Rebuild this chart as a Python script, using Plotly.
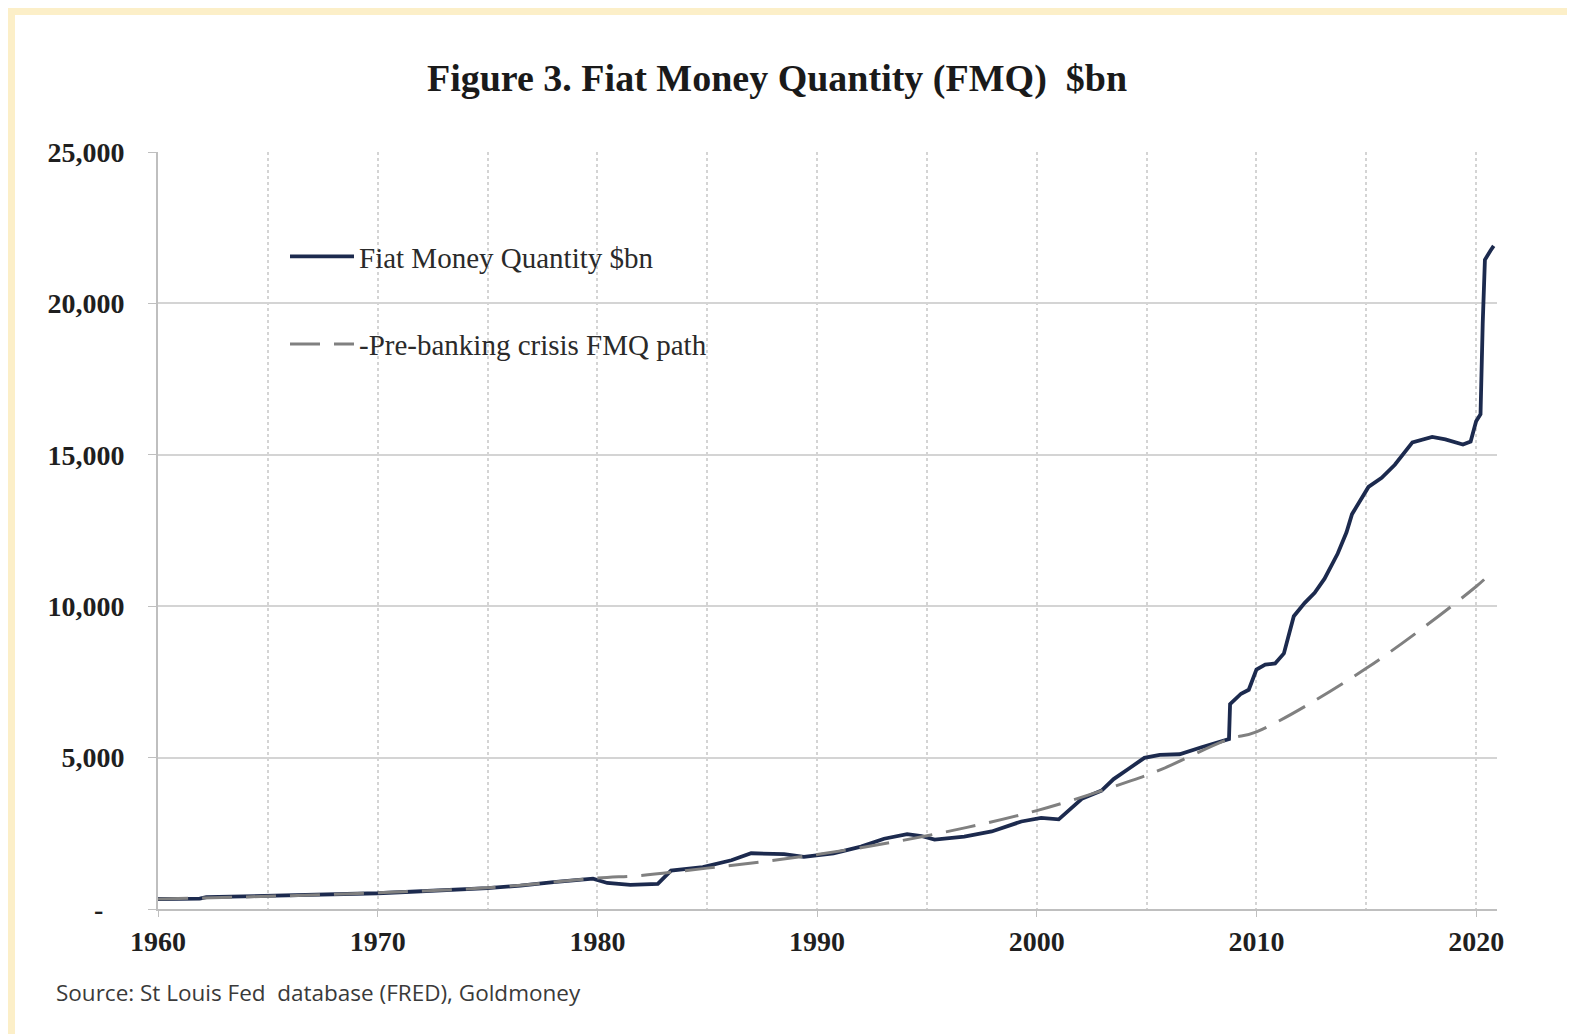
import plotly.graph_objects as go

# Fiat Money Quantity ($bn)
fmq_years = [1960.0, 1961.0, 1961.9, 1962.2, 1963.5, 1965.0, 1966.5, 1968.0, 1970.0, 1971.5,
             1973.0, 1975.0, 1976.5, 1978.0, 1979.8, 1980.45, 1981.5, 1982.75, 1983.35, 1984.8,
             1986.1, 1987.0, 1988.5, 1989.4, 1990.75, 1992.0, 1993.05, 1994.1, 1994.75, 1995.35,
             1996.7, 1997.95, 1999.3, 2000.2, 2001.0, 2002.05, 2002.95, 2003.5, 2004.2, 2004.9,
             2005.6, 2006.5, 2007.5, 2008.3, 2008.75, 2008.8, 2009.0, 2009.3, 2009.65, 2010.0,
             2010.4, 2010.85, 2011.25, 2011.7, 2012.2, 2012.65, 2013.1, 2013.7, 2014.1, 2014.35,
             2015.1, 2015.7, 2016.3, 2017.1, 2018.0, 2018.6, 2019.4, 2019.75, 2020.0, 2020.2,
             2020.3, 2020.4, 2020.65, 2020.8]
fmq_values = [330, 330, 340, 390, 410, 450, 470, 500, 520, 570,
              620, 690, 770, 890, 1000, 860, 800, 830, 1270, 1380,
              1610, 1840, 1810, 1720, 1840, 2060, 2320, 2470, 2410, 2290,
              2390, 2560, 2890, 3010, 2960, 3640, 3910, 4290, 4640, 4990,
              5090, 5110, 5340, 5510, 5610, 6770, 6910, 7110, 7240, 7910,
              8070, 8110, 8440, 9670, 10110, 10440, 10910, 11740, 12440, 13040,
              13940, 14240, 14670, 15410, 15590, 15510, 15340, 15440, 16110, 16340,
              19340, 21440, 21740, 21900]

# Pre-banking crisis FMQ path ($bn)
path_years = [1960, 1965, 1970, 1975, 1980, 1982, 1985, 1990, 1995, 2000,
              2004.3, 2005.7, 2008.75, 2010, 2015, 2020, 2020.75]
path_values = [330, 420, 540, 700, 1020, 1110, 1350, 1800, 2420, 3250,
               4240, 4620, 5610, 5850, 7950, 10650, 11150]

x_ticks = [1960, 1970, 1980, 1990, 2000, 2010, 2020]
y_ticks = [0, 5000, 10000, 15000, 20000, 25000]
y_labels = ["-\u00a0\u00a0\u00a0", "5,000", "10,000", "15,000", "20,000", "25,000"]

OFF = 8  # page body margin
W, H = 1575 - OFF, 1034 - OFF
L, R, T, B = 158 - OFF, 78, 152 - OFF, 133 - OFF
PW, PH = W - L - R, H - T - B


def px_x(p):
    return (p - OFF - L) / PW


def px_y(p):
    return (H - B - (p - OFF)) / PH


serif = "Liberation Serif"

fig = go.Figure()
fig.add_trace(go.Scatter(
    x=fmq_years, y=fmq_values, mode="lines", name="Fiat Money Quantity $bn",
    line=dict(color="#1c2a4e", width=3.8), legendgroup="a"))
fig.add_trace(go.Scatter(
    x=path_years, y=path_values, mode="lines", name="-Pre-banking crisis FMQ path",
    line=dict(color="#808080", width=3, dash="30px,14px", shape="spline"), legendgroup="b"))

# white card inside the beige frame
fig.add_shape(type="rect", xref="paper", yref="paper", layer="below",
              x0=px_x(15), x1=px_x(1580), y0=px_y(1045), y1=px_y(15),
              fillcolor="white", line=dict(width=0))

fig.add_annotation(text="Source: St Louis Fed  database (FRED), Goldmoney",
                   xref="paper", yref="paper", x=px_x(54), y=px_y(992),
                   xanchor="left", yanchor="middle", showarrow=False,
                   font=dict(family="Open Sans", size=22.5, color="#3a3a3a"))

fig.update_layout(
    width=W, height=H,
    margin=dict(l=L, r=R, t=T, b=B),
    paper_bgcolor="#fcefc8", plot_bgcolor="white",
    title=dict(text="<b>Figure 3. Fiat Money Quantity (FMQ)  $bn</b>",
               x=(777 - OFF) / W, y=1 - (78 - OFF) / H, xanchor="center", yanchor="middle",
               xref="container", yref="container",
               font=dict(family=serif, size=38, color="#1a1a1a")),
    showlegend=True,
    legend=dict(x=px_x(285), y=px_y(231), xanchor="left", yanchor="top",
                bgcolor="rgba(0,0,0,0)", tracegroupgap=47, itemwidth=64,
                font=dict(family=serif, size=29, color="#2a2a2a")),
    xaxis=dict(range=[1960, 2020.95], tickvals=x_ticks, ticktext=[str(v) for v in x_ticks],
               showgrid=True, gridcolor="#d4d4d4", griddash="dot", gridwidth=1.5,
               minor=dict(dtick=5, tick0=1960, showgrid=True, gridcolor="#d4d4d4",
                          griddash="dot", gridwidth=1.5),
               showline=True, linecolor="#bfbfbf", linewidth=2,
               ticks="outside", ticklen=6, tickcolor="#bfbfbf",
               tickfont=dict(family=serif, size=28, color="#1f1f1f", weight="bold"),
               zeroline=False),
    yaxis=dict(range=[0, 25000], tickvals=y_ticks, ticktext=y_labels,
               showgrid=True, gridcolor="#d4d4d4", gridwidth=2,
               showline=True, linecolor="#bfbfbf", linewidth=2,
               ticks="outside", ticklen=8, tickcolor="#bfbfbf",
               ticklabelstandoff=18,
               tickfont=dict(family=serif, size=28, color="#1f1f1f", weight="bold"),
               zeroline=False),
)

fig.write_html("out.html")
